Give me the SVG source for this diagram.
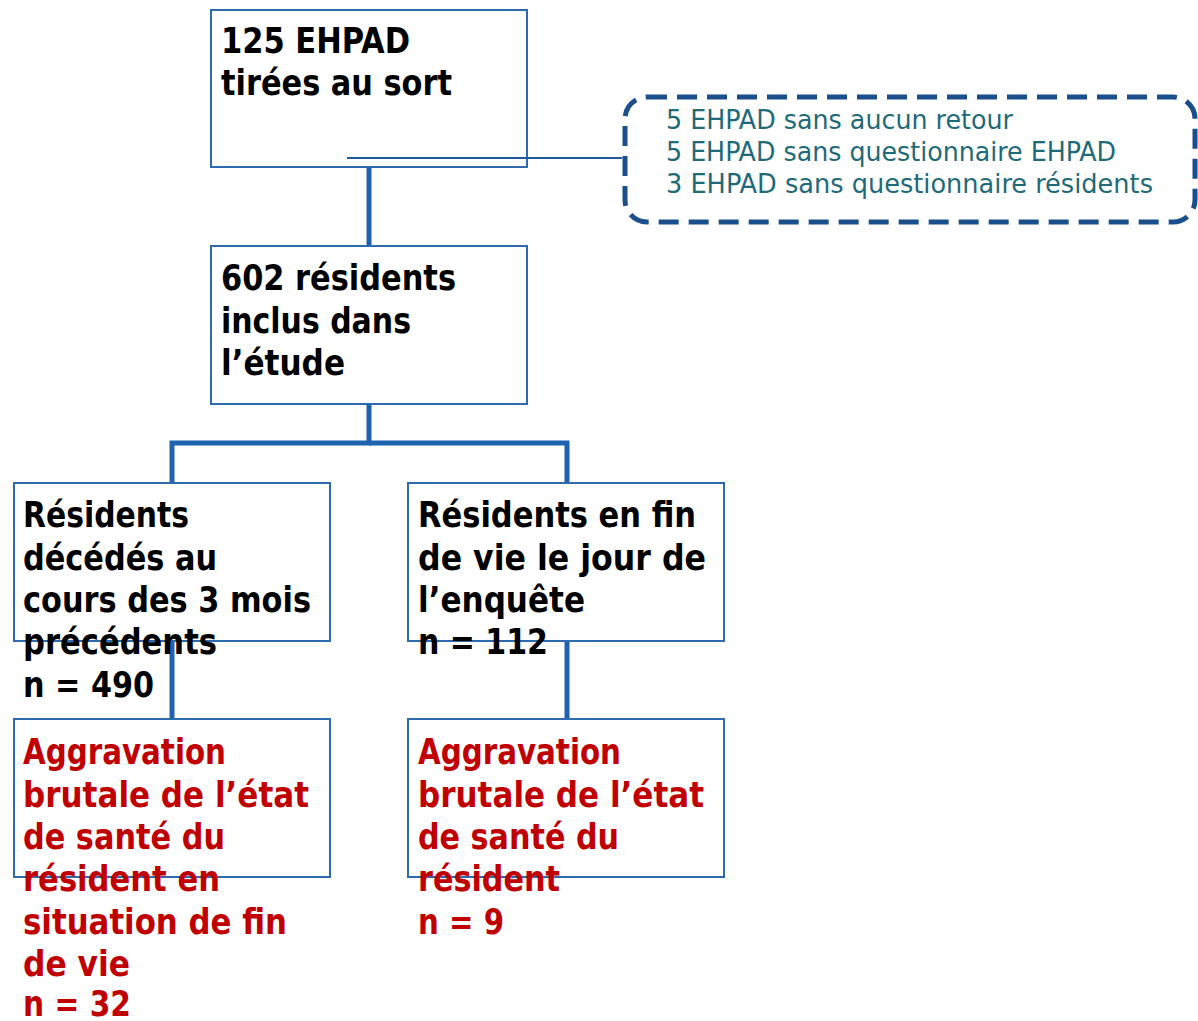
<svg xmlns="http://www.w3.org/2000/svg" width="1198" height="1021" viewBox="0 0 1198 1021">
<style>
.box{fill:#fff;stroke:#2E6AAE;stroke-width:2}
.t{font-family:"DejaVu Sans Condensed","DejaVu Sans",sans-serif;font-weight:bold;font-size:35px;fill:#000}
.r{fill:#C00000}
.n{font-family:"DejaVu Sans Condensed","DejaVu Sans",sans-serif;font-size:26px;fill:#1F6A78}
.c{fill:none;stroke:#1F62AE;stroke-width:5}
</style>
<rect width="1198" height="1021" fill="#fff"/>
<g id="connectors">
<line x1="369" y1="167" x2="369" y2="246" class="c"/>
<polyline points="369,404 369,443 172,443 172,483" class="c"/>
<polyline points="369,443 567,443 567,483" class="c"/>
<line x1="172" y1="641" x2="172" y2="719" class="c"/>
<line x1="567" y1="641" x2="567" y2="719" class="c"/>
</g>
<g id="n1">
<rect x="211" y="10" width="316" height="157" class="box"/>
<text class="t" x="221" y="53" textLength="189" lengthAdjust="spacingAndGlyphs">125 EHPAD</text>
<text class="t" x="221" y="95" textLength="231" lengthAdjust="spacingAndGlyphs">tirées au sort</text>
</g>
<g id="link">
<line x1="347" y1="158" x2="622" y2="158" stroke="#1F5C9E" stroke-width="1.8"/>
</g>
<g id="note">
<rect x="625" y="97" width="570" height="125" rx="22" fill="none" stroke="#1B4F8C" stroke-width="5" stroke-dasharray="20 10"/>
<text class="n" x="666" y="129" textLength="347" lengthAdjust="spacingAndGlyphs">5 EHPAD sans aucun retour</text>
<text class="n" x="666" y="161" textLength="450" lengthAdjust="spacingAndGlyphs">5 EHPAD sans questionnaire EHPAD</text>
<text class="n" x="666" y="193" textLength="487" lengthAdjust="spacingAndGlyphs">3 EHPAD sans questionnaire résidents</text>
</g>
<g id="n2">
<rect x="211" y="246" width="316" height="158" class="box"/>
<text class="t" x="221" y="290" textLength="235" lengthAdjust="spacingAndGlyphs">602 résidents</text>
<text class="t" x="221" y="333" textLength="190" lengthAdjust="spacingAndGlyphs">inclus dans</text>
<text class="t" x="221" y="375" textLength="124" lengthAdjust="spacingAndGlyphs">l’étude</text>
</g>
<g id="n3">
<rect x="14" y="483" width="316" height="158" class="box"/>
<text class="t" x="23" y="527" textLength="166" lengthAdjust="spacingAndGlyphs">Résidents</text>
<text class="t" x="23" y="570" textLength="194" lengthAdjust="spacingAndGlyphs">décédés au</text>
<text class="t" x="23" y="612" textLength="288" lengthAdjust="spacingAndGlyphs">cours des 3 mois</text>
<text class="t" x="23" y="654" textLength="194" lengthAdjust="spacingAndGlyphs">précédents</text>
<text class="t" x="23" y="697" textLength="131" lengthAdjust="spacingAndGlyphs">n = 490</text>
</g>
<g id="n4">
<rect x="408" y="483" width="316" height="158" class="box"/>
<text class="t" x="418" y="527" textLength="278" lengthAdjust="spacingAndGlyphs">Résidents en fin</text>
<text class="t" x="418" y="570" textLength="288" lengthAdjust="spacingAndGlyphs">de vie le jour de</text>
<text class="t" x="418" y="612" textLength="167" lengthAdjust="spacingAndGlyphs">l’enquête</text>
<text class="t" x="418" y="654" textLength="130" lengthAdjust="spacingAndGlyphs">n = 112</text>
</g>
<g id="n5">
<rect x="14" y="719" width="316" height="158" class="box"/>
<text class="t r" x="23" y="764" textLength="203" lengthAdjust="spacingAndGlyphs">Aggravation</text>
<text class="t r" x="23" y="807" textLength="286" lengthAdjust="spacingAndGlyphs">brutale de l’état</text>
<text class="t r" x="23" y="849" textLength="202" lengthAdjust="spacingAndGlyphs">de santé du</text>
<text class="t r" x="23" y="891" textLength="197" lengthAdjust="spacingAndGlyphs">résident en</text>
<text class="t r" x="23" y="934" textLength="264" lengthAdjust="spacingAndGlyphs">situation de fin</text>
<text class="t r" x="23" y="976" textLength="107" lengthAdjust="spacingAndGlyphs">de vie</text>
<text class="t r" x="23" y="1016" textLength="108" lengthAdjust="spacingAndGlyphs">n = 32</text>
</g>
<g id="n6">
<rect x="408" y="719" width="316" height="158" class="box"/>
<text class="t r" x="418" y="764" textLength="203" lengthAdjust="spacingAndGlyphs">Aggravation</text>
<text class="t r" x="418" y="807" textLength="286" lengthAdjust="spacingAndGlyphs">brutale de l’état</text>
<text class="t r" x="418" y="849" textLength="201" lengthAdjust="spacingAndGlyphs">de santé du</text>
<text class="t r" x="418" y="891" textLength="142" lengthAdjust="spacingAndGlyphs">résident</text>
<text class="t r" x="418" y="934" textLength="86" lengthAdjust="spacingAndGlyphs">n = 9</text>
</g>
</svg>
